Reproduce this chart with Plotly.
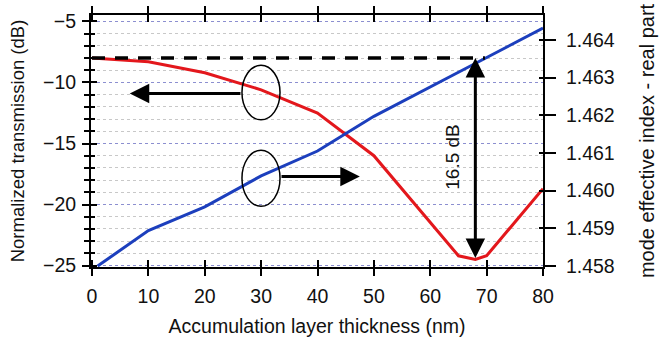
import plotly.graph_objects as go

# ---- data ----
thick_red = [0, 10, 20, 30, 40, 50, 65, 68, 70, 80]
transmission_db = [-8.0, -8.3, -9.2, -10.6, -12.5, -16.0, -24.2, -24.5, -24.2, -18.7]

thick_blue = [1, 10, 20, 30, 40, 50, 65, 80]
neff_real = [1.4580, 1.45894, 1.45957, 1.46039, 1.46105, 1.46197, 1.46314, 1.46431]

x_ticks = [0, 10, 20, 30, 40, 50, 60, 70, 80]
left_ticks = [-25, -20, -15, -10, -5]
right_ticks = [1.458, 1.459, 1.460, 1.461, 1.462, 1.463, 1.464]

ref_level_db = -8.0
min_level_db = -24.5
arrow_x = 68
depth_label = "16.5 dB"

FONT = "Arial, Liberation Sans, sans-serif"
RED = "#e3171c"
BLUE = "#1c3fbd"

XR = [-0.18, 80]
YR = [-25.12, -4.47]
Y2R = [1.457974, 1.464658]

fig = go.Figure()
fig.add_trace(go.Scatter(x=thick_red, y=transmission_db, mode="lines",
                         line=dict(color=RED, width=3), xaxis="x", yaxis="y",
                         showlegend=False, hoverinfo="skip"))
fig.add_trace(go.Scatter(x=thick_blue, y=neff_real, mode="lines",
                         line=dict(color=BLUE, width=3), xaxis="x", yaxis="y2",
                         showlegend=False, hoverinfo="skip"))
# helper traces (invisible) to activate overlay axes with inward ticks
fig.add_trace(go.Scatter(x=thick_red, y=transmission_db, mode="lines",
                         line=dict(width=0), opacity=0, xaxis="x3", yaxis="y3",
                         showlegend=False, hoverinfo="skip"))
fig.add_trace(go.Scatter(x=thick_blue, y=neff_real, mode="lines",
                         line=dict(width=0), opacity=0, xaxis="x3", yaxis="y4",
                         showlegend=False, hoverinfo="skip"))

tickfont = dict(family=FONT, size=19.5, color="#111")

fig.update_layout(
    width=661, height=340,
    margin=dict(l=91, r=118, t=6, b=72),
    paper_bgcolor="white", plot_bgcolor="white",
    showlegend=False,
    font=dict(family=FONT, color="#111"),
    xaxis=dict(range=XR, tickvals=x_ticks, ticks="outside", ticklen=7, tickwidth=2,
               tickcolor="black", showline=True, linewidth=2, linecolor="black",
               mirror="ticks", showgrid=False, zeroline=False, tickfont=tickfont,
               ticklabelstandoff=4,
               title=dict(text="Accumulation layer thickness (nm)",
                          font=dict(family=FONT, size=19.5), standoff=13)),
    yaxis=dict(range=YR, tickmode="linear", tick0=-25, dtick=5, ticks="outside",
               ticklen=7, tickwidth=2, tickcolor="black", showline=True,
               linewidth=2, linecolor="black", zeroline=False,
               showgrid=True, gridcolor="#8c8fd0", griddash="dot", gridwidth=1,
               minor=dict(dtick=1, ticks="outside", ticklen=5, tickwidth=2,
                          tickcolor="black", showgrid=True, gridcolor="#c8c8c8",
                          griddash="dot", gridwidth=1),
               tickfont=tickfont, ticklabelstandoff=2,
               title=dict(text="Normalized transmission (dB)",
                          font=dict(family=FONT, size=18.5), standoff=14)),
    yaxis2=dict(range=Y2R, overlaying="y", side="right", anchor="x",
                tickvals=right_ticks, tickformat=".3f", ticks="outside",
                ticklen=11, tickwidth=2, tickcolor="black", showline=True,
                linewidth=2, linecolor="black", showgrid=False, zeroline=False,
                tickfont=tickfont, ticklabelstandoff=6,
                title=dict(text="mode effective index - real part",
                           font=dict(family=FONT, size=20), standoff=26)),
    xaxis3=dict(range=XR, overlaying="x", anchor="y", side="bottom",
                tickvals=x_ticks, ticks="inside", ticklen=7, tickwidth=2,
                tickcolor="black", mirror="ticks", showticklabels=False,
                showline=False, showgrid=False, zeroline=False),
    yaxis3=dict(range=YR, overlaying="y", anchor="x", side="left",
                tickmode="linear", tick0=-25, dtick=5, ticks="inside",
                ticklen=6, tickwidth=2, tickcolor="black",
                minor=dict(dtick=1, ticks="inside", ticklen=4, tickwidth=2,
                           tickcolor="black", showgrid=False),
                showticklabels=False, showline=False, showgrid=False,
                zeroline=False),
    yaxis4=dict(range=Y2R, overlaying="y", anchor="x", side="right",
                tickvals=right_ticks, ticks="inside", ticklen=4, tickwidth=2,
                tickcolor="black", showticklabels=False, showline=False,
                showgrid=False, zeroline=False),
)

# dashed reference level
fig.add_shape(type="line", xref="x", yref="y", x0=0, x1=69.7,
              y0=ref_level_db, y1=ref_level_db,
              line=dict(color="black", width=3.5, dash="13px,10px"))

# ellipses marking which curve belongs to which axis
fig.add_shape(type="circle", xref="x", yref="y", x0=26.6, x1=33.35,
              y0=-13.06, y1=-8.59, line=dict(color="black", width=1.5))
fig.add_shape(type="circle", xref="x", yref="y", x0=26.6, x1=33.35,
              y0=-20.15, y1=-15.55, line=dict(color="black", width=1.5))

# arrows
fig.add_annotation(x=6.7, y=-10.9, ax=26.6, ay=-10.9, xref="x", yref="y",
                   axref="x", ayref="y", text="", showarrow=True,
                   arrowhead=2, arrowsize=1.3, arrowwidth=3, arrowcolor="black")
fig.add_annotation(x=47.5, y=-17.7, ax=33.35, ay=-17.7, xref="x", yref="y",
                   axref="x", ayref="y", text="", showarrow=True,
                   arrowhead=2, arrowsize=1.3, arrowwidth=3, arrowcolor="black")
fig.add_annotation(x=arrow_x, y=ref_level_db, ax=arrow_x, ay=min_level_db,
                   xref="x", yref="y", axref="x", ayref="y", text="",
                   showarrow=True, arrowhead=2, startarrowhead=2,
                   arrowside="end+start", arrowsize=1.3, startarrowsize=1.3,
                   arrowwidth=3, arrowcolor="black")
fig.add_annotation(x=64.0, y=-16.1, xref="x", yref="y", text=depth_label,
                   textangle=-90, showarrow=False,
                   font=dict(family=FONT, size=19, color="#111"))

fig.write_html("out.html")
